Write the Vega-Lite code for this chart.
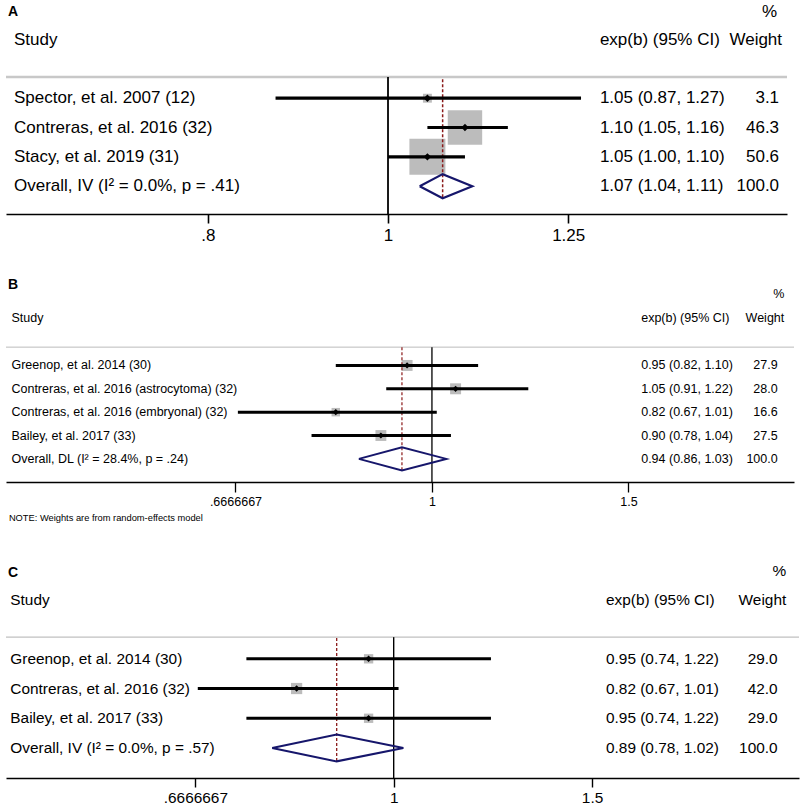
{
  "$schema": "https://vega.github.io/schema/vega-lite/v6.json",
  "padding": {"left": 4, "top": 0, "right": 0, "bottom": 0},
  "background": "white",
  "spacing": 27,
  "resolve": {"scale": {"size": "independent"}},
  "config": {"view": {"stroke": null}, "font": "Liberation Sans", "text": {"font": "Liberation Sans", "color": "#000000"}},
  "datasets": {
    "a": [
      {"study": "Spector, et al. 2007 (12)", "row": 1, "est": 1.05, "lcl": 0.87, "ucl": 1.27, "weight": 3.1, "ci": "1.05 (0.87, 1.27)", "wt": "3.1", "type": "study"},
      {"study": "Contreras, et al. 2016 (32)", "row": 2, "est": 1.10, "lcl": 1.05, "ucl": 1.16, "weight": 46.3, "ci": "1.10 (1.05, 1.16)", "wt": "46.3", "type": "study"},
      {"study": "Stacy, et al. 2019 (31)", "row": 3, "est": 1.05, "lcl": 1.00, "ucl": 1.10, "weight": 50.6, "ci": "1.05 (1.00, 1.10)", "wt": "50.6", "type": "study"},
      {"study": "Overall, IV (I² = 0.0%, p = .41)", "row": 4, "est": 1.07, "lcl": 1.04, "ucl": 1.11, "weight": 100.0, "ci": "1.07 (1.04, 1.11)", "wt": "100.0", "type": "overall"}
    ],
    "aDiamond": [
      {"k": 0, "x": 1.04, "y": 4}, {"k": 1, "x": 1.07, "y": 3.59}, {"k": 2, "x": 1.11, "y": 4}, {"k": 3, "x": 1.07, "y": 4.41}, {"k": 4, "x": 1.04, "y": 4}
    ],
    "b": [
      {"study": "Greenop, et al. 2014 (30)", "row": 1, "est": 0.95, "lcl": 0.82, "ucl": 1.10, "weight": 27.9, "ci": "0.95 (0.82, 1.10)", "wt": "27.9", "type": "study"},
      {"study": "Contreras, et al. 2016 (astrocytoma) (32)", "row": 2, "est": 1.05, "lcl": 0.91, "ucl": 1.22, "weight": 28.0, "ci": "1.05 (0.91, 1.22)", "wt": "28.0", "type": "study"},
      {"study": "Contreras, et al. 2016 (embryonal) (32)", "row": 3, "est": 0.82, "lcl": 0.67, "ucl": 1.01, "weight": 16.6, "ci": "0.82 (0.67, 1.01)", "wt": "16.6", "type": "study"},
      {"study": "Bailey, et al. 2017 (33)", "row": 4, "est": 0.90, "lcl": 0.78, "ucl": 1.04, "weight": 27.5, "ci": "0.90 (0.78, 1.04)", "wt": "27.5", "type": "study"},
      {"study": "Overall, DL (I² = 28.4%, p = .24)", "row": 5, "est": 0.94, "lcl": 0.86, "ucl": 1.03, "weight": 100.0, "ci": "0.94 (0.86, 1.03)", "wt": "100.0", "type": "overall"}
    ],
    "bDiamond": [
      {"k": 0, "x": 0.86, "y": 5}, {"k": 1, "x": 0.94, "y": 4.5}, {"k": 2, "x": 1.03, "y": 5}, {"k": 3, "x": 0.94, "y": 5.5}, {"k": 4, "x": 0.86, "y": 5}
    ],
    "c": [
      {"study": "Greenop, et al. 2014 (30)", "row": 1, "est": 0.95, "lcl": 0.74, "ucl": 1.22, "weight": 29.0, "ci": "0.95 (0.74, 1.22)", "wt": "29.0", "type": "study"},
      {"study": "Contreras, et al. 2016 (32)", "row": 2, "est": 0.82, "lcl": 0.67, "ucl": 1.01, "weight": 42.0, "ci": "0.82 (0.67, 1.01)", "wt": "42.0", "type": "study"},
      {"study": "Bailey, et al. 2017 (33)", "row": 3, "est": 0.95, "lcl": 0.74, "ucl": 1.22, "weight": 29.0, "ci": "0.95 (0.74, 1.22)", "wt": "29.0", "type": "study"},
      {"study": "Overall, IV (I² = 0.0%, p = .57)", "row": 4, "est": 0.89, "lcl": 0.78, "ucl": 1.02, "weight": 100.0, "ci": "0.89 (0.78, 1.02)", "wt": "100.0", "type": "overall"}
    ],
    "cDiamond": [
      {"k": 0, "x": 0.78, "y": 4}, {"k": 1, "x": 0.89, "y": 3.55}, {"k": 2, "x": 1.02, "y": 4}, {"k": 3, "x": 0.89, "y": 4.45}, {"k": 4, "x": 0.78, "y": 4}
    ]
  },
  "vconcat": [
    {
      "width": 781,
      "height": 214,
      "layer": [
        {"data": {"values": [{}]}, "mark": {"type": "rule", "color": "#c8c8c8", "strokeWidth": 2.5},
         "encoding": {"y": {"datum": 0.28, "type": "quantitative", "scale": {"domain": [-2.35, 4.95], "reverse": true, "nice": false, "zero": false}, "axis": null}}},
        {"data": {"values": [{}]}, "mark": {"type": "rule", "color": "#000000", "strokeWidth": 1.8},
         "encoding": {
           "x": {"datum": 1, "type": "quantitative", "scale": {"type": "log", "domain": [0.6231, 1.639], "nice": false}, "axis": {"values": [0.8, 1, 1.25], "labelExpr": "datum.value < 0.9 ? '.8' : (datum.value < 1.1 ? '1' : '1.25')", "title": null, "grid": false, "domainColor": "#000000", "domainWidth": 1.6, "tickColor": "#000000", "tickWidth": 1.6, "tickSize": 9, "labelPadding": 4, "labelFontSize": 17, "labelFont": "Liberation Sans", "labelColor": "#000000", "labelFlush": false, "labelOverlap": false}},
           "y": {"datum": 0.28, "type": "quantitative", "scale": {"domain": [-2.35, 4.95], "reverse": true, "nice": false, "zero": false}, "axis": null},
           "y2": {"datum": 4.95}
         }},
        {"data": {"name": "a"}, "transform": [{"filter": "datum.type == 'study'"}],
         "mark": {"type": "point", "shape": "square", "filled": true, "color": "#bcbcbc", "opacity": 1},
         "encoding": {
           "x": {"field": "est", "type": "quantitative", "scale": {"type": "log", "domain": [0.6231, 1.639], "nice": false}, "axis": {"values": [0.8, 1, 1.25], "labelExpr": "datum.value < 0.9 ? '.8' : (datum.value < 1.1 ? '1' : '1.25')", "title": null, "grid": false, "domainColor": "#000000", "domainWidth": 1.6, "tickColor": "#000000", "tickWidth": 1.6, "tickSize": 9, "labelPadding": 4, "labelFontSize": 17, "labelFont": "Liberation Sans", "labelColor": "#000000", "labelFlush": false, "labelOverlap": false}},
           "y": {"field": "row", "type": "quantitative", "scale": {"domain": [-2.35, 4.95], "reverse": true, "nice": false, "zero": false}, "axis": null},
           "size": {"field": "weight", "type": "quantitative", "scale": {"domain": [0, 100], "range": [0, 2560]}, "legend": null}
         }},
        {"data": {"name": "a"}, "transform": [{"filter": "datum.type == 'overall'"}],
         "mark": {"type": "rule", "color": "#8b1a1a", "strokeWidth": 1.5, "strokeDash": [3, 2]},
         "encoding": {
           "x": {"field": "est", "type": "quantitative", "scale": {"type": "log", "domain": [0.6231, 1.639], "nice": false}, "axis": {"values": [0.8, 1, 1.25], "labelExpr": "datum.value < 0.9 ? '.8' : (datum.value < 1.1 ? '1' : '1.25')", "title": null, "grid": false, "domainColor": "#000000", "domainWidth": 1.6, "tickColor": "#000000", "tickWidth": 1.6, "tickSize": 9, "labelPadding": 4, "labelFontSize": 17, "labelFont": "Liberation Sans", "labelColor": "#000000", "labelFlush": false, "labelOverlap": false}},
           "y": {"datum": 0.35, "type": "quantitative", "scale": {"domain": [-2.35, 4.95], "reverse": true, "nice": false, "zero": false}, "axis": null},
           "y2": {"datum": 4.41}
         }},
        {"data": {"name": "a"}, "transform": [{"filter": "datum.type == 'study'"}],
         "mark": {"type": "rule", "color": "#000000", "strokeWidth": 3.2},
         "encoding": {
           "x": {"field": "lcl", "type": "quantitative", "scale": {"type": "log", "domain": [0.6231, 1.639], "nice": false}, "axis": {"values": [0.8, 1, 1.25], "labelExpr": "datum.value < 0.9 ? '.8' : (datum.value < 1.1 ? '1' : '1.25')", "title": null, "grid": false, "domainColor": "#000000", "domainWidth": 1.6, "tickColor": "#000000", "tickWidth": 1.6, "tickSize": 9, "labelPadding": 4, "labelFontSize": 17, "labelFont": "Liberation Sans", "labelColor": "#000000", "labelFlush": false, "labelOverlap": false}},
           "x2": {"field": "ucl"},
           "y": {"field": "row", "type": "quantitative", "scale": {"domain": [-2.35, 4.95], "reverse": true, "nice": false, "zero": false}, "axis": null}
         }},
        {"data": {"name": "a"}, "transform": [{"filter": "datum.type == 'study'"}],
         "mark": {"type": "point", "shape": "diamond", "filled": true, "color": "#000000", "opacity": 1, "size": 55},
         "encoding": {
           "x": {"field": "est", "type": "quantitative", "scale": {"type": "log", "domain": [0.6231, 1.639], "nice": false}, "axis": {"values": [0.8, 1, 1.25], "labelExpr": "datum.value < 0.9 ? '.8' : (datum.value < 1.1 ? '1' : '1.25')", "title": null, "grid": false, "domainColor": "#000000", "domainWidth": 1.6, "tickColor": "#000000", "tickWidth": 1.6, "tickSize": 9, "labelPadding": 4, "labelFontSize": 17, "labelFont": "Liberation Sans", "labelColor": "#000000", "labelFlush": false, "labelOverlap": false}},
           "y": {"field": "row", "type": "quantitative", "scale": {"domain": [-2.35, 4.95], "reverse": true, "nice": false, "zero": false}, "axis": null}
         }},
        {"data": {"name": "aDiamond"},
         "mark": {"type": "line", "color": "#16166b", "strokeWidth": 2.2},
         "encoding": {
           "x": {"field": "x", "type": "quantitative", "scale": {"type": "log", "domain": [0.6231, 1.639], "nice": false}, "axis": {"values": [0.8, 1, 1.25], "labelExpr": "datum.value < 0.9 ? '.8' : (datum.value < 1.1 ? '1' : '1.25')", "title": null, "grid": false, "domainColor": "#000000", "domainWidth": 1.6, "tickColor": "#000000", "tickWidth": 1.6, "tickSize": 9, "labelPadding": 4, "labelFontSize": 17, "labelFont": "Liberation Sans", "labelColor": "#000000", "labelFlush": false, "labelOverlap": false}},
           "y": {"field": "y", "type": "quantitative", "scale": {"domain": [-2.35, 4.95], "reverse": true, "nice": false, "zero": false}, "axis": null},
           "order": {"field": "k"}
         }},
        {"data": {"name": "a"},
         "mark": {"type": "text", "align": "left", "baseline": "middle", "fontSize": 17},
         "encoding": {
           "x": {"datum": 0.6293, "type": "quantitative", "scale": {"type": "log", "domain": [0.6231, 1.639], "nice": false}, "axis": {"values": [0.8, 1, 1.25], "labelExpr": "datum.value < 0.9 ? '.8' : (datum.value < 1.1 ? '1' : '1.25')", "title": null, "grid": false, "domainColor": "#000000", "domainWidth": 1.6, "tickColor": "#000000", "tickWidth": 1.6, "tickSize": 9, "labelPadding": 4, "labelFontSize": 17, "labelFont": "Liberation Sans", "labelColor": "#000000", "labelFlush": false, "labelOverlap": false}},
           "y": {"field": "row", "type": "quantitative", "scale": {"domain": [-2.35, 4.95], "reverse": true, "nice": false, "zero": false}, "axis": null},
           "text": {"field": "study"}
         }},
        {"data": {"name": "a"},
         "mark": {"type": "text", "align": "left", "baseline": "middle", "fontSize": 17},
         "encoding": {
           "x": {"datum": 1.300, "type": "quantitative", "scale": {"type": "log", "domain": [0.6231, 1.639], "nice": false}, "axis": {"values": [0.8, 1, 1.25], "labelExpr": "datum.value < 0.9 ? '.8' : (datum.value < 1.1 ? '1' : '1.25')", "title": null, "grid": false, "domainColor": "#000000", "domainWidth": 1.6, "tickColor": "#000000", "tickWidth": 1.6, "tickSize": 9, "labelPadding": 4, "labelFontSize": 17, "labelFont": "Liberation Sans", "labelColor": "#000000", "labelFlush": false, "labelOverlap": false}},
           "y": {"field": "row", "type": "quantitative", "scale": {"domain": [-2.35, 4.95], "reverse": true, "nice": false, "zero": false}, "axis": null},
           "text": {"field": "ci"}
         }},
        {"data": {"name": "a"},
         "mark": {"type": "text", "align": "right", "baseline": "middle", "fontSize": 17},
         "encoding": {
           "x": {"datum": 1.623, "type": "quantitative", "scale": {"type": "log", "domain": [0.6231, 1.639], "nice": false}, "axis": {"values": [0.8, 1, 1.25], "labelExpr": "datum.value < 0.9 ? '.8' : (datum.value < 1.1 ? '1' : '1.25')", "title": null, "grid": false, "domainColor": "#000000", "domainWidth": 1.6, "tickColor": "#000000", "tickWidth": 1.6, "tickSize": 9, "labelPadding": 4, "labelFontSize": 17, "labelFont": "Liberation Sans", "labelColor": "#000000", "labelFlush": false, "labelOverlap": false}},
           "y": {"field": "row", "type": "quantitative", "scale": {"domain": [-2.35, 4.95], "reverse": true, "nice": false, "zero": false}, "axis": null},
           "text": {"field": "wt"}
         }},
        {"data": {"values": [{}]},
         "mark": {"type": "text", "align": "left", "baseline": "middle", "fontSize": 14, "fontWeight": "bold", "text": "A"},
         "encoding": {
           "x": {"datum": 0.6246, "type": "quantitative", "scale": {"type": "log", "domain": [0.6231, 1.639], "nice": false}, "axis": {"values": [0.8, 1, 1.25], "labelExpr": "datum.value < 0.9 ? '.8' : (datum.value < 1.1 ? '1' : '1.25')", "title": null, "grid": false, "domainColor": "#000000", "domainWidth": 1.6, "tickColor": "#000000", "tickWidth": 1.6, "tickSize": 9, "labelPadding": 4, "labelFontSize": 17, "labelFont": "Liberation Sans", "labelColor": "#000000", "labelFlush": false, "labelOverlap": false}},
           "y": {"datum": -1.93, "type": "quantitative", "scale": {"domain": [-2.35, 4.95], "reverse": true, "nice": false, "zero": false}, "axis": null}
         }},
        {"data": {"values": [{}]},
         "mark": {"type": "text", "align": "left", "baseline": "middle", "fontSize": 17, "text": "Study"},
         "encoding": {
           "x": {"datum": 0.6293, "type": "quantitative", "scale": {"type": "log", "domain": [0.6231, 1.639], "nice": false}, "axis": {"values": [0.8, 1, 1.25], "labelExpr": "datum.value < 0.9 ? '.8' : (datum.value < 1.1 ? '1' : '1.25')", "title": null, "grid": false, "domainColor": "#000000", "domainWidth": 1.6, "tickColor": "#000000", "tickWidth": 1.6, "tickSize": 9, "labelPadding": 4, "labelFontSize": 17, "labelFont": "Liberation Sans", "labelColor": "#000000", "labelFlush": false, "labelOverlap": false}},
           "y": {"datum": -0.98, "type": "quantitative", "scale": {"domain": [-2.35, 4.95], "reverse": true, "nice": false, "zero": false}, "axis": null}
         }},
        {"data": {"values": [{}]},
         "mark": {"type": "text", "align": "left", "baseline": "middle", "fontSize": 17, "text": "exp(b) (95% CI)"},
         "encoding": {
           "x": {"datum": 1.300, "type": "quantitative", "scale": {"type": "log", "domain": [0.6231, 1.639], "nice": false}, "axis": {"values": [0.8, 1, 1.25], "labelExpr": "datum.value < 0.9 ? '.8' : (datum.value < 1.1 ? '1' : '1.25')", "title": null, "grid": false, "domainColor": "#000000", "domainWidth": 1.6, "tickColor": "#000000", "tickWidth": 1.6, "tickSize": 9, "labelPadding": 4, "labelFontSize": 17, "labelFont": "Liberation Sans", "labelColor": "#000000", "labelFlush": false, "labelOverlap": false}},
           "y": {"datum": -0.98, "type": "quantitative", "scale": {"domain": [-2.35, 4.95], "reverse": true, "nice": false, "zero": false}, "axis": null}
         }},
        {"data": {"values": [{}]},
         "mark": {"type": "text", "align": "right", "baseline": "middle", "fontSize": 17, "text": "Weight"},
         "encoding": {
           "x": {"datum": 1.629, "type": "quantitative", "scale": {"type": "log", "domain": [0.6231, 1.639], "nice": false}, "axis": {"values": [0.8, 1, 1.25], "labelExpr": "datum.value < 0.9 ? '.8' : (datum.value < 1.1 ? '1' : '1.25')", "title": null, "grid": false, "domainColor": "#000000", "domainWidth": 1.6, "tickColor": "#000000", "tickWidth": 1.6, "tickSize": 9, "labelPadding": 4, "labelFontSize": 17, "labelFont": "Liberation Sans", "labelColor": "#000000", "labelFlush": false, "labelOverlap": false}},
           "y": {"datum": -0.98, "type": "quantitative", "scale": {"domain": [-2.35, 4.95], "reverse": true, "nice": false, "zero": false}, "axis": null}
         }},
        {"data": {"values": [{}]},
         "mark": {"type": "text", "align": "right", "baseline": "middle", "fontSize": 17, "text": "%"},
         "encoding": {
           "x": {"datum": 1.619, "type": "quantitative", "scale": {"type": "log", "domain": [0.6231, 1.639], "nice": false}, "axis": {"values": [0.8, 1, 1.25], "labelExpr": "datum.value < 0.9 ? '.8' : (datum.value < 1.1 ? '1' : '1.25')", "title": null, "grid": false, "domainColor": "#000000", "domainWidth": 1.6, "tickColor": "#000000", "tickWidth": 1.6, "tickSize": 9, "labelPadding": 4, "labelFontSize": 17, "labelFont": "Liberation Sans", "labelColor": "#000000", "labelFlush": false, "labelOverlap": false}},
           "y": {"datum": -1.93, "type": "quantitative", "scale": {"domain": [-2.35, 4.95], "reverse": true, "nice": false, "zero": false}, "axis": null}
         }}
      ]
    },
    {
      "width": 788,
      "height": 212,
      "layer": [
        {"data": {"values": [{}]}, "mark": {"type": "rule", "color": "#bbbbbb", "strokeWidth": 1},
         "encoding": {"y": {"datum": 0.216, "type": "quantitative", "scale": {"domain": [-3.086, 5.99], "reverse": true, "nice": false, "zero": false}, "axis": null}}},
        {"data": {"values": [{}]}, "mark": {"type": "rule", "color": "#000000", "strokeWidth": 1.3},
         "encoding": {
           "x": {"datum": 1, "type": "quantitative", "scale": {"type": "log", "domain": [0.4152, 2.111], "nice": false}, "axis": {"values": [0.6666667, 1, 1.5], "labelExpr": "datum.value < 0.9 ? '.6666667' : (datum.value < 1.1 ? '1' : '1.5')", "title": null, "grid": false, "domainColor": "#000000", "domainWidth": 1.3, "tickColor": "#000000", "tickWidth": 1.3, "tickSize": 10, "labelPadding": 3, "labelFontSize": 12.5, "labelFont": "Liberation Sans", "labelColor": "#000000", "labelFlush": false, "labelOverlap": false}},
           "y": {"datum": 0.216, "type": "quantitative", "scale": {"domain": [-3.086, 5.99], "reverse": true, "nice": false, "zero": false}, "axis": null},
           "y2": {"datum": 5.99}
         }},
        {"data": {"name": "b"}, "transform": [{"filter": "datum.type == 'study'"}],
         "mark": {"type": "point", "shape": "square", "filled": true, "color": "#bcbcbc", "opacity": 1},
         "encoding": {
           "x": {"field": "est", "type": "quantitative", "scale": {"type": "log", "domain": [0.4152, 2.111], "nice": false}, "axis": {"values": [0.6666667, 1, 1.5], "labelExpr": "datum.value < 0.9 ? '.6666667' : (datum.value < 1.1 ? '1' : '1.5')", "title": null, "grid": false, "domainColor": "#000000", "domainWidth": 1.3, "tickColor": "#000000", "tickWidth": 1.3, "tickSize": 10, "labelPadding": 3, "labelFontSize": 12.5, "labelFont": "Liberation Sans", "labelColor": "#000000", "labelFlush": false, "labelOverlap": false}},
           "y": {"field": "row", "type": "quantitative", "scale": {"domain": [-3.086, 5.99], "reverse": true, "nice": false, "zero": false}, "axis": null},
           "size": {"field": "weight", "type": "quantitative", "scale": {"domain": [0, 100], "range": [0, 430]}, "legend": null}
         }},
        {"data": {"name": "b"}, "transform": [{"filter": "datum.type == 'overall'"}],
         "mark": {"type": "rule", "color": "#8b1a1a", "strokeWidth": 1.2, "strokeDash": [3, 2]},
         "encoding": {
           "x": {"field": "est", "type": "quantitative", "scale": {"type": "log", "domain": [0.4152, 2.111], "nice": false}, "axis": {"values": [0.6666667, 1, 1.5], "labelExpr": "datum.value < 0.9 ? '.6666667' : (datum.value < 1.1 ? '1' : '1.5')", "title": null, "grid": false, "domainColor": "#000000", "domainWidth": 1.3, "tickColor": "#000000", "tickWidth": 1.3, "tickSize": 10, "labelPadding": 3, "labelFontSize": 12.5, "labelFont": "Liberation Sans", "labelColor": "#000000", "labelFlush": false, "labelOverlap": false}},
           "y": {"datum": 0.216, "type": "quantitative", "scale": {"domain": [-3.086, 5.99], "reverse": true, "nice": false, "zero": false}, "axis": null},
           "y2": {"datum": 5.5}
         }},
        {"data": {"name": "b"}, "transform": [{"filter": "datum.type == 'study'"}],
         "mark": {"type": "rule", "color": "#000000", "strokeWidth": 3},
         "encoding": {
           "x": {"field": "lcl", "type": "quantitative", "scale": {"type": "log", "domain": [0.4152, 2.111], "nice": false}, "axis": {"values": [0.6666667, 1, 1.5], "labelExpr": "datum.value < 0.9 ? '.6666667' : (datum.value < 1.1 ? '1' : '1.5')", "title": null, "grid": false, "domainColor": "#000000", "domainWidth": 1.3, "tickColor": "#000000", "tickWidth": 1.3, "tickSize": 10, "labelPadding": 3, "labelFontSize": 12.5, "labelFont": "Liberation Sans", "labelColor": "#000000", "labelFlush": false, "labelOverlap": false}},
           "x2": {"field": "ucl"},
           "y": {"field": "row", "type": "quantitative", "scale": {"domain": [-3.086, 5.99], "reverse": true, "nice": false, "zero": false}, "axis": null}
         }},
        {"data": {"name": "b"}, "transform": [{"filter": "datum.type == 'study'"}],
         "mark": {"type": "point", "shape": "diamond", "filled": true, "color": "#000000", "opacity": 1, "size": 38},
         "encoding": {
           "x": {"field": "est", "type": "quantitative", "scale": {"type": "log", "domain": [0.4152, 2.111], "nice": false}, "axis": {"values": [0.6666667, 1, 1.5], "labelExpr": "datum.value < 0.9 ? '.6666667' : (datum.value < 1.1 ? '1' : '1.5')", "title": null, "grid": false, "domainColor": "#000000", "domainWidth": 1.3, "tickColor": "#000000", "tickWidth": 1.3, "tickSize": 10, "labelPadding": 3, "labelFontSize": 12.5, "labelFont": "Liberation Sans", "labelColor": "#000000", "labelFlush": false, "labelOverlap": false}},
           "y": {"field": "row", "type": "quantitative", "scale": {"domain": [-3.086, 5.99], "reverse": true, "nice": false, "zero": false}, "axis": null}
         }},
        {"data": {"name": "bDiamond"},
         "mark": {"type": "line", "color": "#16166b", "strokeWidth": 2},
         "encoding": {
           "x": {"field": "x", "type": "quantitative", "scale": {"type": "log", "domain": [0.4152, 2.111], "nice": false}, "axis": {"values": [0.6666667, 1, 1.5], "labelExpr": "datum.value < 0.9 ? '.6666667' : (datum.value < 1.1 ? '1' : '1.5')", "title": null, "grid": false, "domainColor": "#000000", "domainWidth": 1.3, "tickColor": "#000000", "tickWidth": 1.3, "tickSize": 10, "labelPadding": 3, "labelFontSize": 12.5, "labelFont": "Liberation Sans", "labelColor": "#000000", "labelFlush": false, "labelOverlap": false}},
           "y": {"field": "y", "type": "quantitative", "scale": {"domain": [-3.086, 5.99], "reverse": true, "nice": false, "zero": false}, "axis": null},
           "order": {"field": "k"}
         }},
        {"data": {"name": "b"},
         "mark": {"type": "text", "align": "left", "baseline": "middle", "fontSize": 12.5},
         "encoding": {
           "x": {"datum": 0.4199, "type": "quantitative", "scale": {"type": "log", "domain": [0.4152, 2.111], "nice": false}, "axis": {"values": [0.6666667, 1, 1.5], "labelExpr": "datum.value < 0.9 ? '.6666667' : (datum.value < 1.1 ? '1' : '1.5')", "title": null, "grid": false, "domainColor": "#000000", "domainWidth": 1.3, "tickColor": "#000000", "tickWidth": 1.3, "tickSize": 10, "labelPadding": 3, "labelFontSize": 12.5, "labelFont": "Liberation Sans", "labelColor": "#000000", "labelFlush": false, "labelOverlap": false}},
           "y": {"field": "row", "type": "quantitative", "scale": {"domain": [-3.086, 5.99], "reverse": true, "nice": false, "zero": false}, "axis": null},
           "text": {"field": "study"}
         }},
        {"data": {"name": "b"},
         "mark": {"type": "text", "align": "left", "baseline": "middle", "fontSize": 12.5},
         "encoding": {
           "x": {"datum": 1.540, "type": "quantitative", "scale": {"type": "log", "domain": [0.4152, 2.111], "nice": false}, "axis": {"values": [0.6666667, 1, 1.5], "labelExpr": "datum.value < 0.9 ? '.6666667' : (datum.value < 1.1 ? '1' : '1.5')", "title": null, "grid": false, "domainColor": "#000000", "domainWidth": 1.3, "tickColor": "#000000", "tickWidth": 1.3, "tickSize": 10, "labelPadding": 3, "labelFontSize": 12.5, "labelFont": "Liberation Sans", "labelColor": "#000000", "labelFlush": false, "labelOverlap": false}},
           "y": {"field": "row", "type": "quantitative", "scale": {"domain": [-3.086, 5.99], "reverse": true, "nice": false, "zero": false}, "axis": null},
           "text": {"field": "ci"}
         }},
        {"data": {"name": "b"},
         "mark": {"type": "text", "align": "right", "baseline": "middle", "fontSize": 12.5},
         "encoding": {
           "x": {"datum": 2.041, "type": "quantitative", "scale": {"type": "log", "domain": [0.4152, 2.111], "nice": false}, "axis": {"values": [0.6666667, 1, 1.5], "labelExpr": "datum.value < 0.9 ? '.6666667' : (datum.value < 1.1 ? '1' : '1.5')", "title": null, "grid": false, "domainColor": "#000000", "domainWidth": 1.3, "tickColor": "#000000", "tickWidth": 1.3, "tickSize": 10, "labelPadding": 3, "labelFontSize": 12.5, "labelFont": "Liberation Sans", "labelColor": "#000000", "labelFlush": false, "labelOverlap": false}},
           "y": {"field": "row", "type": "quantitative", "scale": {"domain": [-3.086, 5.99], "reverse": true, "nice": false, "zero": false}, "axis": null},
           "text": {"field": "wt"}
         }},
        {"data": {"values": [{}]},
         "mark": {"type": "text", "align": "left", "baseline": "middle", "fontSize": 14, "fontWeight": "bold", "text": "B"},
         "encoding": {
           "x": {"datum": 0.4169, "type": "quantitative", "scale": {"type": "log", "domain": [0.4152, 2.111], "nice": false}, "axis": {"values": [0.6666667, 1, 1.5], "labelExpr": "datum.value < 0.9 ? '.6666667' : (datum.value < 1.1 ? '1' : '1.5')", "title": null, "grid": false, "domainColor": "#000000", "domainWidth": 1.3, "tickColor": "#000000", "tickWidth": 1.3, "tickSize": 10, "labelPadding": 3, "labelFontSize": 12.5, "labelFont": "Liberation Sans", "labelColor": "#000000", "labelFlush": false, "labelOverlap": false}},
           "y": {"datum": -2.44, "type": "quantitative", "scale": {"domain": [-3.086, 5.99], "reverse": true, "nice": false, "zero": false}, "axis": null}
         }},
        {"data": {"values": [{}]},
         "mark": {"type": "text", "align": "left", "baseline": "middle", "fontSize": 12.5, "text": "Study"},
         "encoding": {
           "x": {"datum": 0.4199, "type": "quantitative", "scale": {"type": "log", "domain": [0.4152, 2.111], "nice": false}, "axis": {"values": [0.6666667, 1, 1.5], "labelExpr": "datum.value < 0.9 ? '.6666667' : (datum.value < 1.1 ? '1' : '1.5')", "title": null, "grid": false, "domainColor": "#000000", "domainWidth": 1.3, "tickColor": "#000000", "tickWidth": 1.3, "tickSize": 10, "labelPadding": 3, "labelFontSize": 12.5, "labelFont": "Liberation Sans", "labelColor": "#000000", "labelFlush": false, "labelOverlap": false}},
           "y": {"datum": -1.03, "type": "quantitative", "scale": {"domain": [-3.086, 5.99], "reverse": true, "nice": false, "zero": false}, "axis": null}
         }},
        {"data": {"values": [{}]},
         "mark": {"type": "text", "align": "left", "baseline": "middle", "fontSize": 12.5, "text": "exp(b) (95% CI)"},
         "encoding": {
           "x": {"datum": 1.540, "type": "quantitative", "scale": {"type": "log", "domain": [0.4152, 2.111], "nice": false}, "axis": {"values": [0.6666667, 1, 1.5], "labelExpr": "datum.value < 0.9 ? '.6666667' : (datum.value < 1.1 ? '1' : '1.5')", "title": null, "grid": false, "domainColor": "#000000", "domainWidth": 1.3, "tickColor": "#000000", "tickWidth": 1.3, "tickSize": 10, "labelPadding": 3, "labelFontSize": 12.5, "labelFont": "Liberation Sans", "labelColor": "#000000", "labelFlush": false, "labelOverlap": false}},
           "y": {"datum": -1.03, "type": "quantitative", "scale": {"domain": [-3.086, 5.99], "reverse": true, "nice": false, "zero": false}, "axis": null}
         }},
        {"data": {"values": [{}]},
         "mark": {"type": "text", "align": "right", "baseline": "middle", "fontSize": 12.5, "text": "Weight"},
         "encoding": {
           "x": {"datum": 2.069, "type": "quantitative", "scale": {"type": "log", "domain": [0.4152, 2.111], "nice": false}, "axis": {"values": [0.6666667, 1, 1.5], "labelExpr": "datum.value < 0.9 ? '.6666667' : (datum.value < 1.1 ? '1' : '1.5')", "title": null, "grid": false, "domainColor": "#000000", "domainWidth": 1.3, "tickColor": "#000000", "tickWidth": 1.3, "tickSize": 10, "labelPadding": 3, "labelFontSize": 12.5, "labelFont": "Liberation Sans", "labelColor": "#000000", "labelFlush": false, "labelOverlap": false}},
           "y": {"datum": -1.03, "type": "quantitative", "scale": {"domain": [-3.086, 5.99], "reverse": true, "nice": false, "zero": false}, "axis": null}
         }},
        {"data": {"values": [{}]},
         "mark": {"type": "text", "align": "right", "baseline": "middle", "fontSize": 12.5, "text": "%"},
         "encoding": {
           "x": {"datum": 2.069, "type": "quantitative", "scale": {"type": "log", "domain": [0.4152, 2.111], "nice": false}, "axis": {"values": [0.6666667, 1, 1.5], "labelExpr": "datum.value < 0.9 ? '.6666667' : (datum.value < 1.1 ? '1' : '1.5')", "title": null, "grid": false, "domainColor": "#000000", "domainWidth": 1.3, "tickColor": "#000000", "tickWidth": 1.3, "tickSize": 10, "labelPadding": 3, "labelFontSize": 12.5, "labelFont": "Liberation Sans", "labelColor": "#000000", "labelFlush": false, "labelOverlap": false}},
           "y": {"datum": -2.05, "type": "quantitative", "scale": {"domain": [-3.086, 5.99], "reverse": true, "nice": false, "zero": false}, "axis": null}
         }},
        {"data": {"values": [{}]},
         "mark": {"type": "text", "align": "left", "baseline": "middle", "fontSize": 9.3, "text": "NOTE: Weights are from random-effects model"},
         "encoding": {
           "x": {"datum": 0.4177, "type": "quantitative", "scale": {"type": "log", "domain": [0.4152, 2.111], "nice": false}, "axis": {"values": [0.6666667, 1, 1.5], "labelExpr": "datum.value < 0.9 ? '.6666667' : (datum.value < 1.1 ? '1' : '1.5')", "title": null, "grid": false, "domainColor": "#000000", "domainWidth": 1.3, "tickColor": "#000000", "tickWidth": 1.3, "tickSize": 10, "labelPadding": 3, "labelFontSize": 12.5, "labelFont": "Liberation Sans", "labelColor": "#000000", "labelFlush": false, "labelOverlap": false}},
           "y": {"datum": 7.54, "type": "quantitative", "scale": {"domain": [-3.086, 5.99], "reverse": true, "nice": false, "zero": false}, "axis": null}
         }}
      ]
    },
    {
      "width": 793,
      "height": 227,
      "layer": [
        {"data": {"values": [{}]}, "mark": {"type": "rule", "color": "#c0c0c0", "strokeWidth": 1.2},
         "encoding": {"y": {"datum": 0.272, "type": "quantitative", "scale": {"domain": [-2.627, 5.01], "reverse": true, "nice": false, "zero": false}, "axis": null}}},
        {"data": {"values": [{}]}, "mark": {"type": "rule", "color": "#000000", "strokeWidth": 1.4},
         "encoding": {
           "x": {"datum": 1, "type": "quantitative", "scale": {"type": "log", "domain": [0.4527, 2.290], "nice": false}, "axis": {"values": [0.6666667, 1, 1.5], "labelExpr": "datum.value < 0.9 ? '.6666667' : (datum.value < 1.1 ? '1' : '1.5')", "title": null, "grid": false, "domainColor": "#000000", "domainWidth": 1.4, "tickColor": "#000000", "tickWidth": 1.4, "tickSize": 9, "labelPadding": 3, "labelFontSize": 15.4, "labelFont": "Liberation Sans", "labelColor": "#000000", "labelFlush": false, "labelOverlap": false}},
           "y": {"datum": 0.272, "type": "quantitative", "scale": {"domain": [-2.627, 5.01], "reverse": true, "nice": false, "zero": false}, "axis": null},
           "y2": {"datum": 5.01}
         }},
        {"data": {"name": "c"}, "transform": [{"filter": "datum.type == 'study'"}],
         "mark": {"type": "point", "shape": "square", "filled": true, "color": "#bcbcbc", "opacity": 1},
         "encoding": {
           "x": {"field": "est", "type": "quantitative", "scale": {"type": "log", "domain": [0.4527, 2.290], "nice": false}, "axis": {"values": [0.6666667, 1, 1.5], "labelExpr": "datum.value < 0.9 ? '.6666667' : (datum.value < 1.1 ? '1' : '1.5')", "title": null, "grid": false, "domainColor": "#000000", "domainWidth": 1.4, "tickColor": "#000000", "tickWidth": 1.4, "tickSize": 9, "labelPadding": 3, "labelFontSize": 15.4, "labelFont": "Liberation Sans", "labelColor": "#000000", "labelFlush": false, "labelOverlap": false}},
           "y": {"field": "row", "type": "quantitative", "scale": {"domain": [-2.627, 5.01], "reverse": true, "nice": false, "zero": false}, "axis": null},
           "size": {"field": "weight", "type": "quantitative", "scale": {"domain": [0, 100], "range": [0, 300]}, "legend": null}
         }},
        {"data": {"name": "c"}, "transform": [{"filter": "datum.type == 'overall'"}],
         "mark": {"type": "rule", "color": "#8b1a1a", "strokeWidth": 1.3, "strokeDash": [3, 2]},
         "encoding": {
           "x": {"field": "est", "type": "quantitative", "scale": {"type": "log", "domain": [0.4527, 2.290], "nice": false}, "axis": {"values": [0.6666667, 1, 1.5], "labelExpr": "datum.value < 0.9 ? '.6666667' : (datum.value < 1.1 ? '1' : '1.5')", "title": null, "grid": false, "domainColor": "#000000", "domainWidth": 1.4, "tickColor": "#000000", "tickWidth": 1.4, "tickSize": 9, "labelPadding": 3, "labelFontSize": 15.4, "labelFont": "Liberation Sans", "labelColor": "#000000", "labelFlush": false, "labelOverlap": false}},
           "y": {"datum": 0.3, "type": "quantitative", "scale": {"domain": [-2.627, 5.01], "reverse": true, "nice": false, "zero": false}, "axis": null},
           "y2": {"datum": 4.45}
         }},
        {"data": {"name": "c"}, "transform": [{"filter": "datum.type == 'study'"}],
         "mark": {"type": "rule", "color": "#000000", "strokeWidth": 3},
         "encoding": {
           "x": {"field": "lcl", "type": "quantitative", "scale": {"type": "log", "domain": [0.4527, 2.290], "nice": false}, "axis": {"values": [0.6666667, 1, 1.5], "labelExpr": "datum.value < 0.9 ? '.6666667' : (datum.value < 1.1 ? '1' : '1.5')", "title": null, "grid": false, "domainColor": "#000000", "domainWidth": 1.4, "tickColor": "#000000", "tickWidth": 1.4, "tickSize": 9, "labelPadding": 3, "labelFontSize": 15.4, "labelFont": "Liberation Sans", "labelColor": "#000000", "labelFlush": false, "labelOverlap": false}},
           "x2": {"field": "ucl"},
           "y": {"field": "row", "type": "quantitative", "scale": {"domain": [-2.627, 5.01], "reverse": true, "nice": false, "zero": false}, "axis": null}
         }},
        {"data": {"name": "c"}, "transform": [{"filter": "datum.type == 'study'"}],
         "mark": {"type": "point", "shape": "diamond", "filled": true, "color": "#000000", "opacity": 1, "size": 42},
         "encoding": {
           "x": {"field": "est", "type": "quantitative", "scale": {"type": "log", "domain": [0.4527, 2.290], "nice": false}, "axis": {"values": [0.6666667, 1, 1.5], "labelExpr": "datum.value < 0.9 ? '.6666667' : (datum.value < 1.1 ? '1' : '1.5')", "title": null, "grid": false, "domainColor": "#000000", "domainWidth": 1.4, "tickColor": "#000000", "tickWidth": 1.4, "tickSize": 9, "labelPadding": 3, "labelFontSize": 15.4, "labelFont": "Liberation Sans", "labelColor": "#000000", "labelFlush": false, "labelOverlap": false}},
           "y": {"field": "row", "type": "quantitative", "scale": {"domain": [-2.627, 5.01], "reverse": true, "nice": false, "zero": false}, "axis": null}
         }},
        {"data": {"name": "cDiamond"},
         "mark": {"type": "line", "color": "#16166b", "strokeWidth": 2},
         "encoding": {
           "x": {"field": "x", "type": "quantitative", "scale": {"type": "log", "domain": [0.4527, 2.290], "nice": false}, "axis": {"values": [0.6666667, 1, 1.5], "labelExpr": "datum.value < 0.9 ? '.6666667' : (datum.value < 1.1 ? '1' : '1.5')", "title": null, "grid": false, "domainColor": "#000000", "domainWidth": 1.4, "tickColor": "#000000", "tickWidth": 1.4, "tickSize": 9, "labelPadding": 3, "labelFontSize": 15.4, "labelFont": "Liberation Sans", "labelColor": "#000000", "labelFlush": false, "labelOverlap": false}},
           "y": {"field": "y", "type": "quantitative", "scale": {"domain": [-2.627, 5.01], "reverse": true, "nice": false, "zero": false}, "axis": null},
           "order": {"field": "k"}
         }},
        {"data": {"name": "c"},
         "mark": {"type": "text", "align": "left", "baseline": "middle", "fontSize": 15.4},
         "encoding": {
           "x": {"datum": 0.4567, "type": "quantitative", "scale": {"type": "log", "domain": [0.4527, 2.290], "nice": false}, "axis": {"values": [0.6666667, 1, 1.5], "labelExpr": "datum.value < 0.9 ? '.6666667' : (datum.value < 1.1 ? '1' : '1.5')", "title": null, "grid": false, "domainColor": "#000000", "domainWidth": 1.4, "tickColor": "#000000", "tickWidth": 1.4, "tickSize": 9, "labelPadding": 3, "labelFontSize": 15.4, "labelFont": "Liberation Sans", "labelColor": "#000000", "labelFlush": false, "labelOverlap": false}},
           "y": {"field": "row", "type": "quantitative", "scale": {"domain": [-2.627, 5.01], "reverse": true, "nice": false, "zero": false}, "axis": null},
           "text": {"field": "study"}
         }},
        {"data": {"name": "c"},
         "mark": {"type": "text", "align": "left", "baseline": "middle", "fontSize": 15.4},
         "encoding": {
           "x": {"datum": 1.5434, "type": "quantitative", "scale": {"type": "log", "domain": [0.4527, 2.290], "nice": false}, "axis": {"values": [0.6666667, 1, 1.5], "labelExpr": "datum.value < 0.9 ? '.6666667' : (datum.value < 1.1 ? '1' : '1.5')", "title": null, "grid": false, "domainColor": "#000000", "domainWidth": 1.4, "tickColor": "#000000", "tickWidth": 1.4, "tickSize": 9, "labelPadding": 3, "labelFontSize": 15.4, "labelFont": "Liberation Sans", "labelColor": "#000000", "labelFlush": false, "labelOverlap": false}},
           "y": {"field": "row", "type": "quantitative", "scale": {"domain": [-2.627, 5.01], "reverse": true, "nice": false, "zero": false}, "axis": null},
           "text": {"field": "ci"}
         }},
        {"data": {"name": "c"},
         "mark": {"type": "text", "align": "right", "baseline": "middle", "fontSize": 15.4},
         "encoding": {
           "x": {"datum": 2.192, "type": "quantitative", "scale": {"type": "log", "domain": [0.4527, 2.290], "nice": false}, "axis": {"values": [0.6666667, 1, 1.5], "labelExpr": "datum.value < 0.9 ? '.6666667' : (datum.value < 1.1 ? '1' : '1.5')", "title": null, "grid": false, "domainColor": "#000000", "domainWidth": 1.4, "tickColor": "#000000", "tickWidth": 1.4, "tickSize": 9, "labelPadding": 3, "labelFontSize": 15.4, "labelFont": "Liberation Sans", "labelColor": "#000000", "labelFlush": false, "labelOverlap": false}},
           "y": {"field": "row", "type": "quantitative", "scale": {"domain": [-2.627, 5.01], "reverse": true, "nice": false, "zero": false}, "axis": null},
           "text": {"field": "wt"}
         }},
        {"data": {"values": [{}]},
         "mark": {"type": "text", "align": "left", "baseline": "middle", "fontSize": 14, "fontWeight": "bold", "text": "C"},
         "encoding": {
           "x": {"datum": 0.4546, "type": "quantitative", "scale": {"type": "log", "domain": [0.4527, 2.290], "nice": false}, "axis": {"values": [0.6666667, 1, 1.5], "labelExpr": "datum.value < 0.9 ? '.6666667' : (datum.value < 1.1 ? '1' : '1.5')", "title": null, "grid": false, "domainColor": "#000000", "domainWidth": 1.4, "tickColor": "#000000", "tickWidth": 1.4, "tickSize": 9, "labelPadding": 3, "labelFontSize": 15.4, "labelFont": "Liberation Sans", "labelColor": "#000000", "labelFlush": false, "labelOverlap": false}},
           "y": {"datum": -1.875, "type": "quantitative", "scale": {"domain": [-2.627, 5.01], "reverse": true, "nice": false, "zero": false}, "axis": null}
         }},
        {"data": {"values": [{}]},
         "mark": {"type": "text", "align": "left", "baseline": "middle", "fontSize": 15.4, "text": "Study"},
         "encoding": {
           "x": {"datum": 0.4567, "type": "quantitative", "scale": {"type": "log", "domain": [0.4527, 2.290], "nice": false}, "axis": {"values": [0.6666667, 1, 1.5], "labelExpr": "datum.value < 0.9 ? '.6666667' : (datum.value < 1.1 ? '1' : '1.5')", "title": null, "grid": false, "domainColor": "#000000", "domainWidth": 1.4, "tickColor": "#000000", "tickWidth": 1.4, "tickSize": 9, "labelPadding": 3, "labelFontSize": 15.4, "labelFont": "Liberation Sans", "labelColor": "#000000", "labelFlush": false, "labelOverlap": false}},
           "y": {"datum": -0.965, "type": "quantitative", "scale": {"domain": [-2.627, 5.01], "reverse": true, "nice": false, "zero": false}, "axis": null}
         }},
        {"data": {"values": [{}]},
         "mark": {"type": "text", "align": "left", "baseline": "middle", "fontSize": 15.4, "text": "exp(b) (95% CI)"},
         "encoding": {
           "x": {"datum": 1.5434, "type": "quantitative", "scale": {"type": "log", "domain": [0.4527, 2.290], "nice": false}, "axis": {"values": [0.6666667, 1, 1.5], "labelExpr": "datum.value < 0.9 ? '.6666667' : (datum.value < 1.1 ? '1' : '1.5')", "title": null, "grid": false, "domainColor": "#000000", "domainWidth": 1.4, "tickColor": "#000000", "tickWidth": 1.4, "tickSize": 9, "labelPadding": 3, "labelFontSize": 15.4, "labelFont": "Liberation Sans", "labelColor": "#000000", "labelFlush": false, "labelOverlap": false}},
           "y": {"datum": -0.965, "type": "quantitative", "scale": {"domain": [-2.627, 5.01], "reverse": true, "nice": false, "zero": false}, "axis": null}
         }},
        {"data": {"values": [{}]},
         "mark": {"type": "text", "align": "right", "baseline": "middle", "fontSize": 15.4, "text": "Weight"},
         "encoding": {
           "x": {"datum": 2.231, "type": "quantitative", "scale": {"type": "log", "domain": [0.4527, 2.290], "nice": false}, "axis": {"values": [0.6666667, 1, 1.5], "labelExpr": "datum.value < 0.9 ? '.6666667' : (datum.value < 1.1 ? '1' : '1.5')", "title": null, "grid": false, "domainColor": "#000000", "domainWidth": 1.4, "tickColor": "#000000", "tickWidth": 1.4, "tickSize": 9, "labelPadding": 3, "labelFontSize": 15.4, "labelFont": "Liberation Sans", "labelColor": "#000000", "labelFlush": false, "labelOverlap": false}},
           "y": {"datum": -0.965, "type": "quantitative", "scale": {"domain": [-2.627, 5.01], "reverse": true, "nice": false, "zero": false}, "axis": null}
         }},
        {"data": {"values": [{}]},
         "mark": {"type": "text", "align": "right", "baseline": "middle", "fontSize": 15.4, "text": "%"},
         "encoding": {
           "x": {"datum": 2.231, "type": "quantitative", "scale": {"type": "log", "domain": [0.4527, 2.290], "nice": false}, "axis": {"values": [0.6666667, 1, 1.5], "labelExpr": "datum.value < 0.9 ? '.6666667' : (datum.value < 1.1 ? '1' : '1.5')", "title": null, "grid": false, "domainColor": "#000000", "domainWidth": 1.4, "tickColor": "#000000", "tickWidth": 1.4, "tickSize": 9, "labelPadding": 3, "labelFontSize": 15.4, "labelFont": "Liberation Sans", "labelColor": "#000000", "labelFlush": false, "labelOverlap": false}},
           "y": {"datum": -1.95, "type": "quantitative", "scale": {"domain": [-2.627, 5.01], "reverse": true, "nice": false, "zero": false}, "axis": null}
         }}
      ]
    }
  ]
}
